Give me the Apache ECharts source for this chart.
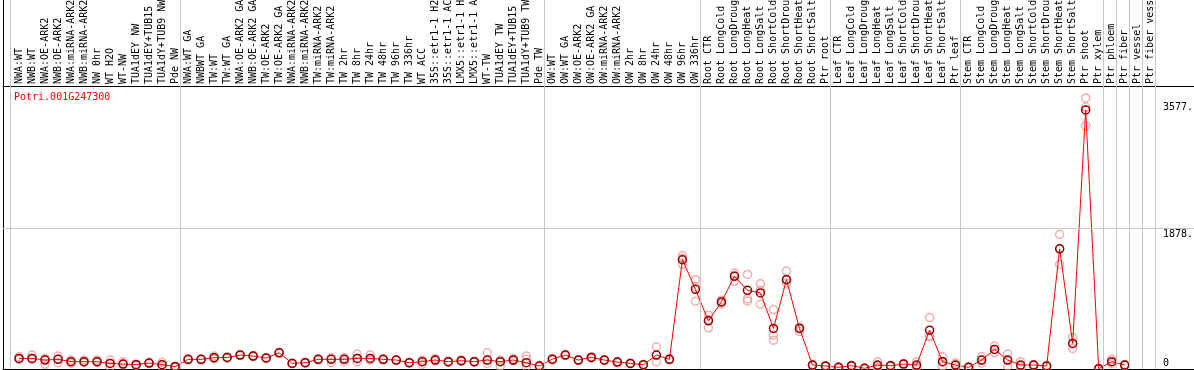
<!DOCTYPE html>
<html><head><meta charset="utf-8">
<script src="https://cdn.jsdelivr.net/npm/echarts@6/dist/echarts.min.js"></script>
<style>html,body{margin:0;padding:0;background:#fff}#c{width:1194px;height:370px}</style>
</head><body><div id="c"></div>
<script>
const title = 'Potri.001G247300';
const categories = ['NWA:WT','NWB:WT','NWA:OE-ARK2','NWB:OE-ARK2','NWA:miRNA-ARK2','NWB:miRNA-ARK2','NW 0hr','WT H2O','WT-NW','TUA1dEY NW','TUA1dEY+TUB15 NW','TUA1dY+TUB9 NW','Pde NW',
'NWA:WT GA','NWBWT GA','TW:WT','TW:WT GA','NWA:OE-ARK2 GA','NWB:OE-ARK2 GA','TW:OE-ARK2','TW:OE-ARK2 GA','NWA:miRNA-ARK2 GA','NWB:miRNA-ARK2 GA','TW:miRNA-ARK2','TW:miRNA-ARK2 GA','TW 2hr','TW 8hr','TW 24hr','TW 48hr','TW 96hr','TW 336hr','WT ACC','35S::etr1-1 H2O','35S::etr1-1 ACC','LMX5::etr1-1 H2O','LMX5::etr1-1 ACC','WT-TW','TUA1dEY TW','TUA1dEY+TUB15 TW','TUA1dY+TUB9 TW','Pde TW',
'OW:WT','OW:WT GA','OW:OE-ARK2','OW:OE-ARK2 GA','OW:miRNA-ARK2','OW:miRNA-ARK2 GA','OW 2hr','OW 8hr','OW 24hr','OW 48hr','OW 96hr','OW 336hr',
'Root CTR','Root LongCold','Root LongDrought','Root LongHeat','Root LongSalt','Root ShortCold','Root ShortDrought','Root ShortHeat','Root ShortSalt','Ptr root',
'Leaf CTR','Leaf LongCold','Leaf LongDrought','Leaf LongHeat','Leaf LongSalt','Leaf ShortCold','Leaf ShortDrought','Leaf ShortHeat','Leaf ShortSalt','Ptr leaf',
'Stem CTR','Stem LongCold','Stem LongDrought','Stem LongHeat','Stem LongSalt','Stem ShortCold','Stem ShortDrought','Stem ShortHeat','Stem ShortSalt','Ptr shoot','Ptr xylem',
'Ptr phloem','Ptr fiber','Ptr vessel','Ptr fiber vessel'];
const groupStarts = [0,13,41,53,63,73,84,85,86,87,88];
const meanValues = [142,142,120,129,98,98,98,75,66,58,80,58,31,
129,129,151,154,186,173,147,217,75,84,129,129,129,142,142,129,120,84,98,120,98,111,98,120,98,120,84,40,
131,186,120,155,120,93,75,58,186,129,
1461,1066,644,897,1239,1052,1017,542,1194,542,
53,40,22,45,9,53,44,66,53,519,
98,53,22,120,262,120,53,53,40,1607,342,
3464,5,98,53];
const rep1 = [164,186,142,173,120,120,120,120,98,66,89,89,40,
135,135,173,160,195,180,155,225,80,90,135,151,151,200,186,135,125,90,120,142,105,120,105,217,120,142,173,50,
140,195,125,165,125,100,80,62,297,135,
1518,1194,719,920,1283,1265,1141,795,1310,560,
60,45,30,50,15,98,50,75,98,688,
164,80,30,164,306,200,98,60,50,1798,422,
3624,10,129,60];
const rep2 = [142,142,130,129,98,98,98,75,66,58,80,58,31,
129,129,151,154,186,173,147,217,75,84,129,129,129,142,142,129,120,84,98,120,98,111,98,120,98,120,129,40,
131,186,120,155,120,93,75,58,186,129,
1480,1100,660,897,1250,941,1050,453,1194,542,
53,40,22,45,9,40,44,66,40,440,
98,53,22,120,262,120,40,53,40,1607,342,
3503,5,98,53];
const rep3 = [129,129,62,84,75,84,89,31,58,50,71,31,22,
120,120,135,145,178,165,140,210,70,78,120,84,98,98,120,120,115,78,62,110,90,100,90,75,40,110,31,31,
120,178,115,145,115,85,70,53,98,120,
1400,906,550,870,1176,910,866,386,1150,500,
45,35,15,40,3,20,38,58,20,430,
40,30,15,80,220,40,20,45,30,1398,275,
3250,0,70,45];
const yLabelValues = [0,1878,3577];

const chart = echarts.init(document.getElementById('c'), null, {renderer:'canvas'});
const xMin = -1.230, xMax = 90.328, yMax = 4934;
const mono = 'DejaVu Sans Mono';
const meanData = meanValues.map((v,i)=>[i,v]);
const repData = [];
[rep1,rep2,rep3].forEach(r=>r.forEach((v,i)=>repData.push([i,v])));
chart.setOption({
  animation:false,
  backgroundColor:'#fff',
  title:{text:title,left:9,top:87,textStyle:{color:'#ff0000',fontSize:10,fontFamily:mono,fontWeight:'normal'}},
  grid:{left:3,right:0,top:0,bottom:1,containLabel:false,outerBoundsMode:'none'},
  xAxis:[
    {type:'value',min:xMin,max:xMax,position:'bottom',
     axisLine:{show:true,onZero:false,lineStyle:{color:'#000',width:1}},
     axisTick:{show:false},axisLabel:{show:false},splitLine:{show:false}},
    {type:'value',min:xMin,max:xMax,position:'top',offset:-86,
     axisLine:{show:true,onZero:false,lineStyle:{color:'#000',width:1}},
     axisTick:{show:false},splitLine:{show:false},
     axisLabel:{show:true,customValues:categories.map((c,i)=>i),rotate:-90,margin:2,
       formatter:v=>categories[Math.round(v)]||'',fontSize:10,fontFamily:mono,color:'#000'}}
  ],
  yAxis:[
    {type:'value',min:0,max:yMax,position:'left',
     axisLine:{show:true,onZero:false,lineStyle:{color:'#000',width:1}},
     axisTick:{show:false},axisLabel:{show:false},splitLine:{show:false}},
    {type:'value',min:0,max:yMax,position:'right',
     axisLine:{show:false},axisTick:{show:false},splitLine:{show:false},
     axisLabel:{show:true,inside:true,customValues:yLabelValues,margin:31,align:'left',
       fontSize:10,fontFamily:mono,color:'#000',
       formatter:v=>v===0?'{b|0}':'{t|'+v+'.}',
       rich:{b:{fontSize:10,fontFamily:mono,lineHeight:11,padding:[0,0,11,0]},
             t:{fontSize:10,fontFamily:mono,lineHeight:11,padding:[11,0,0,0]}}}}
  ],
  series:[
    {type:'scatter',name:'rep',xAxisIndex:0,yAxisIndex:0,data:repData,symbol:'circle',symbolSize:8,z:2,
     itemStyle:{color:'rgba(255,255,255,0)',borderColor:'#f19a9a',borderWidth:1.5},
     markLine:{silent:true,symbol:'none',label:{show:false},
       lineStyle:{color:'#c8c8c8',width:1,type:'solid'},
       data:groupStarts.map(b=>({xAxis:b-0.64})).concat([{yAxis:1878}])}},
    {type:'line',name:'mean',xAxisIndex:0,yAxisIndex:0,data:meanData,symbol:'circle',symbolSize:8,showAllSymbol:true,z:3,
     lineStyle:{color:'#ff0000',width:1},
     itemStyle:{color:'rgba(255,255,255,0)',borderColor:'#900000',borderWidth:1.5}}
  ]
});
</script></body></html>
